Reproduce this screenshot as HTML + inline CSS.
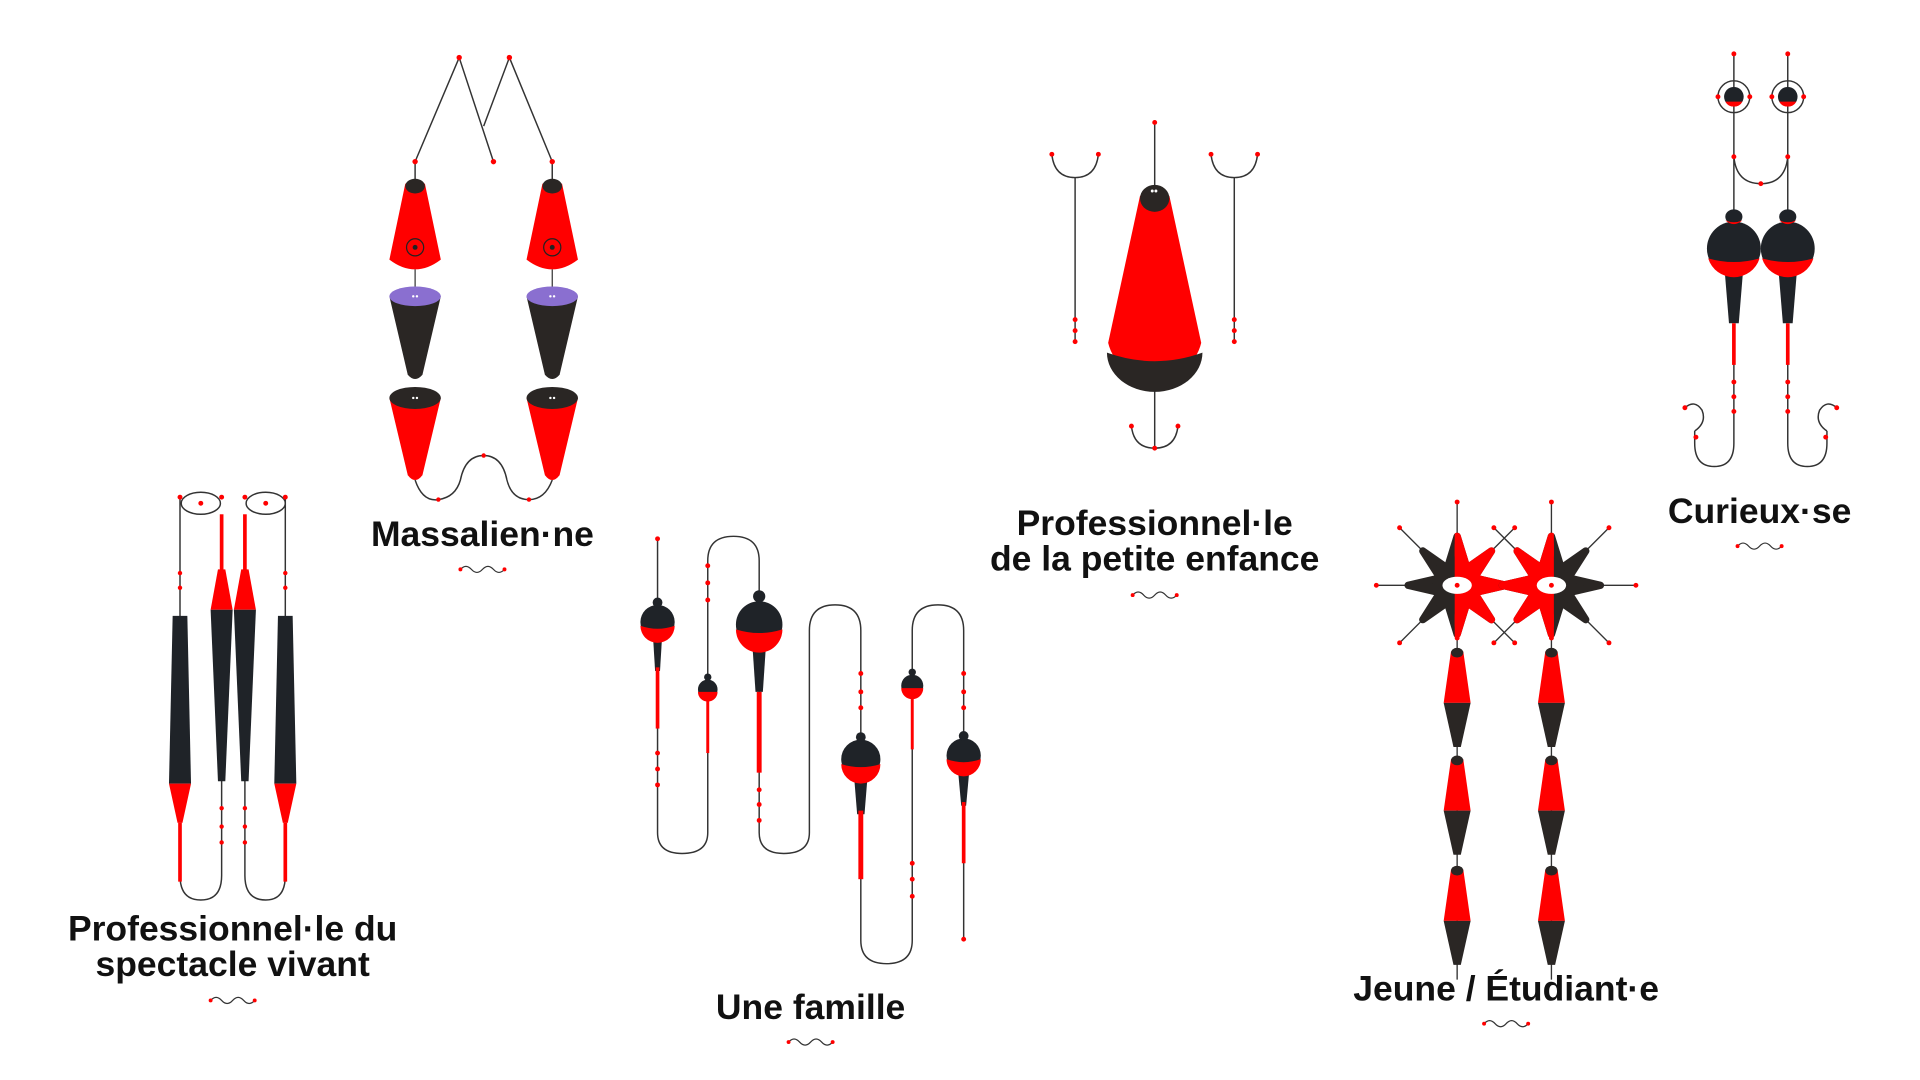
<!DOCTYPE html>
<html><head><meta charset="utf-8"><style>
html,body{margin:0;padding:0;background:#fff;width:1920px;height:1080px;overflow:hidden}
svg{display:block}
text{font-family:"Liberation Sans",sans-serif;font-weight:bold;fill:#111;text-anchor:middle;font-size:29px}
</style></head><body>
<svg width="1920" height="1080" viewBox="0 0 1568 882" preserveAspectRatio="none" xmlns="http://www.w3.org/2000/svg">
<defs>
<g id="sq"><path d="M-18 0 q4.5 -5 9 0 t9 0 t9 0 t9 0" fill="none" stroke="#333" stroke-width="1"/><circle cx="-18" cy="0" r="1.6" fill="red"/><circle cx="18" cy="0" r="1.6" fill="red"/></g>
<g id="mfl">
<path d="M-8 150 L-21 212 Q0 228 21 212 L8 150Z" fill="red"/>
<ellipse cx="0" cy="152" rx="8" ry="6" fill="#2a2624"/>
<circle cx="0" cy="202" r="7" fill="none" stroke="#222"/><circle cx="0" cy="202" r="2" fill="#222"/>
<line x1="0" y1="220" x2="0" y2="240" stroke="#333"/>
<path d="M-21 242 L-6 306 Q0 313 6 306 L21 242Z" fill="#2a2624"/>
<ellipse cx="0" cy="242" rx="21" ry="8" fill="#8a6fd0"/>
<path d="M-21 325 L-6 388 Q0 396 6 388 L21 325Z" fill="red"/>
<ellipse cx="0" cy="325" rx="21" ry="9" fill="#2a2624"/>
<circle cx="-1.5" cy="242" r="1" fill="#fff"/><circle cx="1.5" cy="242" r="1" fill="#fff"/>
<circle cx="-1.5" cy="325" r="1" fill="#fff"/><circle cx="1.5" cy="325" r="1" fill="#fff"/>
</g>
<g id="dia">
<path d="M-5 0 L-11 42 L11 42 L5 0Z" fill="red"/>
<path d="M-11 42 L-3 78 L3 78 L11 42Z" fill="#2a2624"/>
<ellipse cx="0" cy="1" rx="5" ry="4" fill="#2a2624"/>
</g>
<polygon id="star" points="0,-40 8,-14 28,-28 14,-6 40,0 14,6 28,28 8,14 0,40 -8,14 -28,28 -14,6 -40,0 -14,-6 -28,-28 -8,-14" stroke-linejoin="round" stroke-width="6"/>
<clipPath id="cl"><path d="M-2 -60 H60 V60 H-2Z"/></clipPath>
<clipPath id="cr"><path d="M2 -60 H-60 V60 H2Z"/></clipPath>
</defs>

<!-- Massalien·ne -->
<g stroke="#333" stroke-width="1.2" fill="none">
<polyline points="339,132 375,47 403,132"/>
<polyline points="451,132 416,47 395,103"/>
<line x1="339" y1="132" x2="339" y2="150"/><line x1="451" y1="132" x2="451" y2="150"/>
<path d="M339 392 Q345 410 358 408 Q372 406 376 392 Q380 372 395 372 Q410 372 414 392 Q418 408 432 408 Q445 408 451 392"/>
</g>
<use href="#mfl" x="339"/><use href="#mfl" x="451"/>
<g fill="red"><circle cx="375" cy="47" r="2.2"/><circle cx="416" cy="47" r="2.2"/><circle cx="339" cy="132" r="2.2"/><circle cx="403" cy="132" r="2.2"/><circle cx="451" cy="132" r="2.2"/><circle cx="395" cy="372" r="1.8"/><circle cx="358" cy="408" r="1.8"/><circle cx="432" cy="408" r="1.8"/></g>
<text x="394" y="446">Massalien·ne</text>
<use href="#sq" x="394" y="465"/>

<!-- Petite enfance -->
<g stroke="#333" stroke-width="1.2" fill="none">
<line x1="943" y1="100" x2="943" y2="160"/><line x1="943" y1="315" x2="943" y2="366"/>
<path d="M924 348 Q926 366 943 366 Q960 366 962 348"/>
<path d="M859 126 Q861 145 878 145 Q895 145 897 126"/><line x1="878" y1="145" x2="878" y2="280"/>
<path d="M989 126 Q991 145 1008 145 Q1025 145 1027 126"/><line x1="1008" y1="145" x2="1008" y2="280"/>
</g>
<path d="M931 160 L905 280 A39 38 0 0 0 981 280 L955 160Z" fill="red"/>
<path d="M904 288 A39 32 0 0 0 982 288 Q943 302 904 288Z" fill="#2a2624"/>
<ellipse cx="943" cy="162" rx="12" ry="11" fill="#2a2624"/>
<circle cx="941" cy="156" r="1.2" fill="#fff"/><circle cx="944" cy="156" r="1.2" fill="#fff"/>
<g fill="red"><circle cx="943" cy="100" r="2"/><circle cx="924" cy="348" r="2"/><circle cx="962" cy="348" r="2"/><circle cx="943" cy="366" r="2"/><circle cx="859" cy="126" r="2"/><circle cx="897" cy="126" r="2"/><circle cx="989" cy="126" r="2"/><circle cx="1027" cy="126" r="2"/>
<circle cx="878" cy="261" r="2"/><circle cx="878" cy="270" r="2"/><circle cx="878" cy="279" r="2"/><circle cx="1008" cy="261" r="2"/><circle cx="1008" cy="270" r="2"/><circle cx="1008" cy="279" r="2"/></g>
<text x="943" y="437">Professionnel·le</text>
<text x="943" y="466">de la petite enfance</text>
<use href="#sq" x="943" y="486"/>

<!-- Curieux·se -->
<g stroke="#333" stroke-width="1.2" fill="none">
<line x1="1416" y1="44" x2="1416" y2="180"/><line x1="1460" y1="44" x2="1460" y2="180"/>
<circle cx="1416" cy="79" r="13"/><circle cx="1460" cy="79" r="13"/>
<path d="M1416 128 Q1418 150 1438 150 Q1458 150 1460 128"/>
<path d="M1416 290 V362 Q1416 381 1400 381 Q1384 381 1384 362 V352 M1384 352 Q1394 345 1390 335 Q1384 326 1376 333"/>
<path d="M1460 290 V362 Q1460 381 1476 381 Q1492 381 1492 362 V352 M1492 352 Q1482 345 1486 335 Q1492 326 1500 333"/>
</g>
<g>
<circle cx="1416" cy="79" r="8" fill="#1f2328"/><path d="M1409 83 A8 8 0 0 0 1423 83Z" fill="red"/>
<circle cx="1460" cy="79" r="8" fill="#1f2328"/><path d="M1453 83 A8 8 0 0 0 1467 83Z" fill="red"/>
</g>
<g id="cf">
<path d="M1408 215 L1412 264 L1420 264 L1424 215Z" fill="#1f2328"/>
<rect x="1414.5" y="264" width="3" height="34" fill="red"/>
<circle cx="1416" cy="203" r="22" fill="#1f2328"/>
<path d="M1395 211 A22 22 0 0 0 1437 211 Q1416 217 1395 211Z" fill="red"/>
<ellipse cx="1416" cy="177" rx="7" ry="6" fill="#1f2328"/><path d="M1409 180 Q1416 186 1423 180 Q1416 183 1409 180Z" fill="red"/>
</g>
<use href="#cf" x="44"/>
<g fill="red"><circle cx="1416" cy="44" r="2"/><circle cx="1460" cy="44" r="2"/><circle cx="1403" cy="79" r="2"/><circle cx="1429" cy="79" r="2"/><circle cx="1447" cy="79" r="2"/><circle cx="1473" cy="79" r="2"/>
<circle cx="1416" cy="128" r="2"/><circle cx="1460" cy="128" r="2"/><circle cx="1438" cy="150" r="2"/>
<circle cx="1416" cy="312" r="2"/><circle cx="1416" cy="324" r="2"/><circle cx="1416" cy="336" r="2"/><circle cx="1460" cy="312" r="2"/><circle cx="1460" cy="324" r="2"/><circle cx="1460" cy="336" r="2"/>
<circle cx="1376" cy="333" r="2"/><circle cx="1385" cy="357" r="2"/><circle cx="1500" cy="333" r="2"/><circle cx="1491" cy="357" r="2"/></g>
<text x="1437" y="427">Curieux·se</text>
<use href="#sq" x="1437" y="446"/>

<!-- Spectacle vivant -->
<g stroke="#333" stroke-width="1.2" fill="none">
<line x1="147" y1="406" x2="147" y2="505"/><line x1="233" y1="406" x2="233" y2="505"/>
<ellipse cx="164" cy="411" rx="16" ry="9"/><ellipse cx="217" cy="411" rx="16" ry="9"/>
<path d="M147 715 Q147 735 164 735 Q181 735 181 715 V500"/>
<path d="M200 500 V715 Q200 735 217 735 Q233 735 233 715"/>
</g>
<g>
<path d="M141 503 L138 640 L156 640 L153 503Z" fill="#1f2328"/>
<path d="M138 640 L145 672 L149 672 L156 640Z" fill="red"/>
<rect x="145.5" y="672" width="3" height="48" fill="red"/>
<path d="M227 503 L224 640 L242 640 L239 503Z" fill="#1f2328"/>
<path d="M224 640 L231 672 L235 672 L242 640Z" fill="red"/>
<rect x="231.5" y="672" width="3" height="48" fill="red"/>
<rect x="179.5" y="420" width="3" height="48" fill="red"/>
<path d="M178 465 L172 498 L190 498 L184 465Z" fill="red"/>
<path d="M172 498 L178 638 L184 638 L190 498Z" fill="#1f2328"/>
<rect x="198.5" y="420" width="3" height="48" fill="red"/>
<path d="M197 465 L191 498 L209 498 L203 465Z" fill="red"/>
<path d="M191 498 L197 638 L203 638 L209 498Z" fill="#1f2328"/>
</g>
<g fill="red"><circle cx="147" cy="406" r="2"/><circle cx="164" cy="411" r="2"/><circle cx="181" cy="406" r="2"/><circle cx="200" cy="406" r="2"/><circle cx="217" cy="411" r="2"/><circle cx="233" cy="406" r="2"/>
<circle cx="147" cy="468" r="1.8"/><circle cx="147" cy="480" r="1.8"/><circle cx="233" cy="468" r="1.8"/><circle cx="233" cy="480" r="1.8"/>
<circle cx="181" cy="660" r="1.8"/><circle cx="181" cy="675" r="1.8"/><circle cx="181" cy="688" r="1.8"/><circle cx="200" cy="660" r="1.8"/><circle cx="200" cy="675" r="1.8"/><circle cx="200" cy="688" r="1.8"/></g>
<text x="190" y="768">Professionnel·le du</text>
<text x="190" y="797">spectacle vivant</text>
<use href="#sq" x="190" y="817"/>

<!-- Une famille -->
<path d="M537 440 V680 Q537 697 557 697 Q578 697 578 680 V458 Q578 438 599 438 Q620 438 620 458 V680 Q620 697 640 697 Q661 697 661 680 V515 Q661 494 682 494 Q703 494 703 515 V768 Q703 787 724 787 Q745 787 745 768 V515 Q745 494 766 494 Q787 494 787 515 V767" fill="none" stroke="#333" stroke-width="1.2"/>
<g>
<path d="M533 515 L535 548 L539 548 L541 515Z" fill="#1f2328"/><rect x="535.5" y="545" width="3" height="50" fill="red"/>
<circle cx="537" cy="508" r="14" fill="#1f2328"/><path d="M523 511 A14 14 0 0 0 551 511 Q537 516 523 511Z" fill="red"/><ellipse cx="537" cy="492" rx="4" ry="4" fill="#1f2328"/>
<rect x="576.8" y="565" width="2.4" height="50" fill="red"/>
<circle cx="578" cy="563" r="8" fill="#1f2328"/><path d="M570 565 A8 8 0 0 0 586 565Z" fill="red"/><ellipse cx="578" cy="553" rx="3" ry="3" fill="#1f2328"/>
<path d="M614 520 L617 565 L623 565 L626 520Z" fill="#1f2328"/><rect x="618" y="565" width="4" height="66" fill="red"/>
<circle cx="620" cy="510" r="19" fill="#1f2328"/><path d="M601 514 A19 19 0 0 0 639 514 Q620 520 601 514Z" fill="red"/><ellipse cx="620" cy="487" rx="5" ry="5" fill="#1f2328"/>
<path d="M697 628 L700 665 L706 665 L709 628Z" fill="#1f2328"/><rect x="701" y="662" width="4" height="56" fill="red"/>
<circle cx="703" cy="620" r="16" fill="#1f2328"/><path d="M687 624 A16 16 0 0 0 719 624 Q703 629 687 624Z" fill="red"/><ellipse cx="703" cy="602" rx="4" ry="4" fill="#1f2328"/>
<rect x="743.8" y="562" width="2.4" height="50" fill="red"/>
<circle cx="745" cy="560" r="9" fill="#1f2328"/><path d="M736 562 A9 9 0 0 0 754 562Z" fill="red"/><ellipse cx="745" cy="549" rx="3" ry="3" fill="#1f2328"/>
<path d="M782 625 L785 658 L789 658 L792 625Z" fill="#1f2328"/><rect x="785.5" y="655" width="3" height="50" fill="red"/>
<circle cx="787" cy="617" r="14" fill="#1f2328"/><path d="M773 620 A14 14 0 0 0 801 620 Q787 625 773 620Z" fill="red"/><ellipse cx="787" cy="601" rx="4" ry="4" fill="#1f2328"/>
</g>
<g fill="red"><circle cx="537" cy="440" r="2"/><circle cx="537" cy="615" r="2"/><circle cx="537" cy="628" r="2"/><circle cx="537" cy="641" r="2"/>
<circle cx="578" cy="462" r="2"/><circle cx="578" cy="476" r="2"/><circle cx="578" cy="490" r="2"/>
<circle cx="620" cy="645" r="2"/><circle cx="620" cy="657" r="2"/><circle cx="620" cy="670" r="2"/>
<circle cx="703" cy="550" r="2"/><circle cx="703" cy="565" r="2"/><circle cx="703" cy="578" r="2"/>
<circle cx="745" cy="705" r="2"/><circle cx="745" cy="718" r="2"/><circle cx="745" cy="732" r="2"/>
<circle cx="787" cy="550" r="2"/><circle cx="787" cy="565" r="2"/><circle cx="787" cy="578" r="2"/><circle cx="787" cy="767" r="2"/></g>
<text x="662" y="832">Une famille</text>
<use href="#sq" x="662" y="851"/>

<!-- Jeune / Étudiant·e -->
<g stroke="#333" stroke-width="1.1">
<line x1="1190" y1="410" x2="1190" y2="530"/><line x1="1267" y1="410" x2="1267" y2="530"/>
<line x1="1143" y1="431" x2="1237" y2="525"/><line x1="1143" y1="525" x2="1237" y2="431"/>
<line x1="1220" y1="431" x2="1314" y2="525"/><line x1="1220" y1="525" x2="1314" y2="431"/>
<line x1="1124" y1="478" x2="1170" y2="478"/><line x1="1290" y1="478" x2="1336" y2="478"/>
<line x1="1190" y1="600" x2="1190" y2="800"/><line x1="1267" y1="600" x2="1267" y2="800"/>
</g>
<g transform="translate(1190 478)"><use href="#star" fill="#2a2624" stroke="#2a2624"/><g clip-path="url(#cl)"><use href="#star" fill="red" stroke="red"/></g><ellipse rx="12" ry="7" fill="#fff"/><circle r="2" fill="red"/></g>
<g transform="translate(1267 478)"><use href="#star" fill="#2a2624" stroke="#2a2624"/><g clip-path="url(#cr)"><use href="#star" fill="red" stroke="red"/></g><ellipse rx="12" ry="7" fill="#fff"/><circle r="2" fill="red"/></g>
<use href="#dia" x="1190" y="532"/><use href="#dia" x="1190" y="620"/><use href="#dia" x="1190" y="710"/>
<use href="#dia" x="1267" y="532"/><use href="#dia" x="1267" y="620"/><use href="#dia" x="1267" y="710"/>
<g fill="red"><circle cx="1190" cy="410" r="2"/><circle cx="1267" cy="410" r="2"/><circle cx="1143" cy="431" r="2"/><circle cx="1143" cy="525" r="2"/><circle cx="1237" cy="431" r="2"/><circle cx="1237" cy="525" r="2"/><circle cx="1220" cy="431" r="2"/><circle cx="1220" cy="525" r="2"/><circle cx="1314" cy="431" r="2"/><circle cx="1314" cy="525" r="2"/><circle cx="1124" cy="478" r="2"/><circle cx="1336" cy="478" r="2"/><circle cx="1190" cy="521" r="2"/><circle cx="1267" cy="521" r="2"/></g>
<text x="1230" y="817">Jeune / Étudiant·e</text>
<use href="#sq" x="1230" y="836"/>
</svg>
</body></html>
